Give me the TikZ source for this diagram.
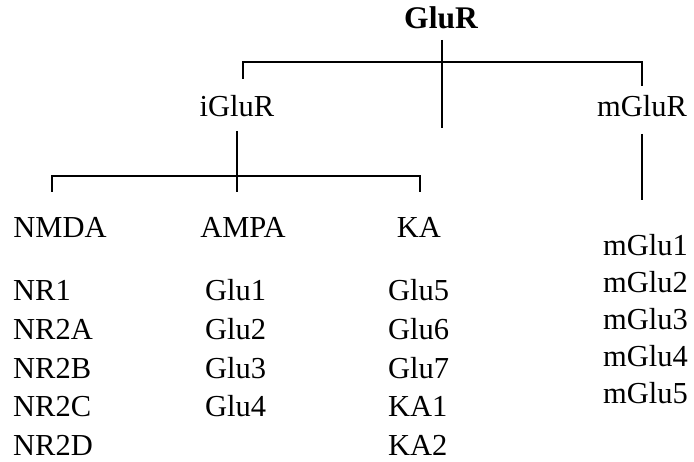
\documentclass[tikz,border=0pt]{standalone}
\usepackage{fontspec}
\setmainfont{Liberation Serif}
\begin{document}
\begin{tikzpicture}[x=1pt,y=-1pt,
  lbl/.style={inner sep=0pt,font=\fontsize{30.5}{30.5}\selectfont},
  item/.style={lbl,anchor=base west},
  head/.style={lbl,anchor=base},
  wire/.style={line width=1.1pt}]
\useasboundingbox (0,0) rectangle (694,462);

% top level
\node[head,font=\fontsize{31.5}{31.5}\selectfont\bfseries] (glur) at (441,29) {GluR};
\node[head] (iglur) at (237,117) {iGluR};
\node[head] (mglur) at (642,117) {mGluR};

% iGluR families
\node[head] (nmda) at (60,238) {NMDA};
\node[head] (ampa) at (243,238) {AMPA};
\node[head] (ka) at (419,238) {KA};

% subunit lists
\foreach \t [count=\i] in {NR1,NR2A,NR2B,NR2C,NR2D}
  \node[item] (nr\i) at (13,{301+38.6*(\i-1)}) {\t};
\foreach \t [count=\i] in {Glu1,Glu2,Glu3,Glu4}
  \node[item] (ampa\i) at (205,{301+38.6*(\i-1)}) {\t};
\foreach \t [count=\i] in {Glu5,Glu6,Glu7,KA1,KA2}
  \node[item] (ka\i) at (388,{301+38.6*(\i-1)}) {\t};
\foreach \t [count=\i] in {mGlu1,mGlu2,mGlu3,mGlu4,mGlu5}
  \node[item] (mg\i) at (603,{256+37*(\i-1)}) {\t};

% tree wiring
\coordinate (gtop) at (442,40);
\coordinate (gbot) at (442,128);
\coordinate (barL) at (243,62);
\coordinate (barR) at (642,62);
\draw[wire] (gtop) -- (gbot);
\draw[wire] (barL |- 0,79) -- (barL) -- (barR) -- (barR |- 0,86);

\coordinate (itop) at (237,131);
\coordinate (ibar) at (237,176);
\coordinate (nbar) at (52,176);
\coordinate (kbar) at (420,176);
\draw[wire] (itop) -- (237,192);
\draw[wire] (nbar |- 0,192) -- (nbar) -- (kbar) -- (kbar |- 0,192);

\coordinate (mtop) at (642,134);
\coordinate (mbot) at (642,200);
\draw[wire] (mtop) -- (mbot);
\end{tikzpicture}
\end{document}
